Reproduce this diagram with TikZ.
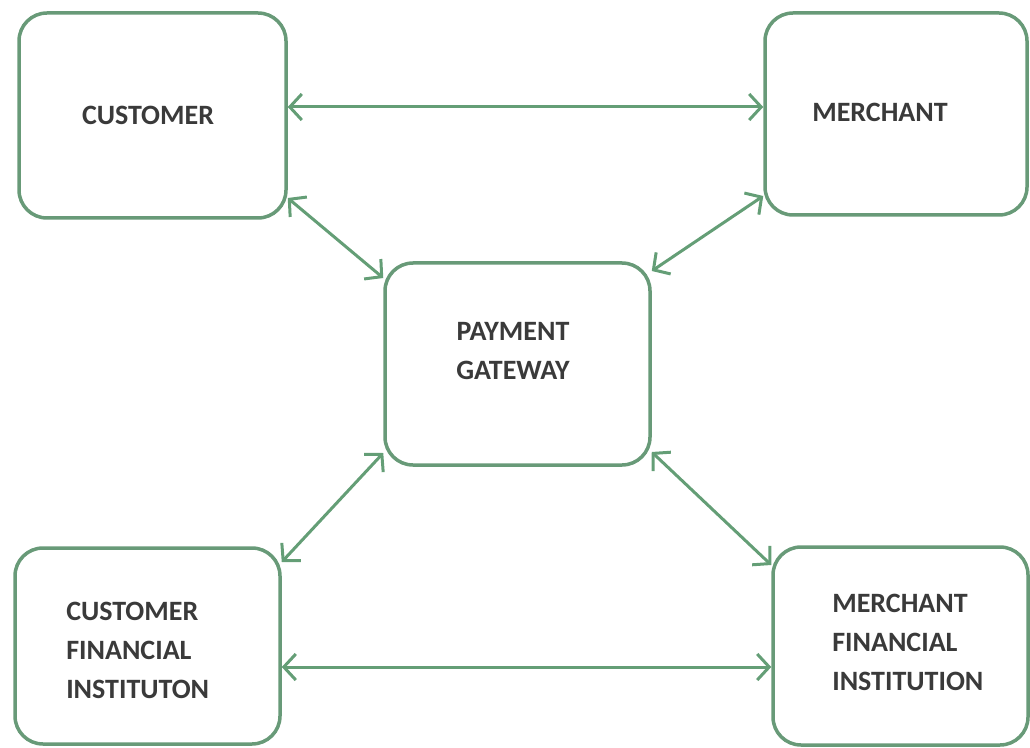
\documentclass[tikz,border=0pt]{standalone}
\usepackage{fontspec}
\setmainfont{Carlito}
\usetikzlibrary{arrows.meta}
\newlength{\pxu}
\setlength{\pxu}{0.75pt}
\definecolor{boxgreen}{RGB}{104,154,120}
\definecolor{linkgreen}{RGB}{100,158,118}
\definecolor{labelgrey}{RGB}{58,58,58}
\tikzset{
  entity/.style={draw=boxgreen, line width=3.5\pxu, rectangle,
    rounded corners=21pt, inner sep=0pt, fill=white},
  label/.style={inner sep=0pt, text=labelgrey,
    font=\fontsize{21pt}{29.25pt}\selectfont\bfseries},
  barb/.tip={Straight Barb[length=9pt,width=19.5pt]},
  link/.style={draw=linkgreen, line width=2.25pt, barb-barb}
}
\begin{document}
\begin{tikzpicture}[x=0.75pt,y=-0.75pt]
  \useasboundingbox (0,0) rectangle (1030,748);

  % boxes
  \node[entity, minimum width=267\pxu, minimum height=205\pxu] (cust)  at (152.5,115.5) {};
  \node[entity, minimum width=262\pxu, minimum height=202\pxu] (merch) at (896,114) {};
  \node[entity, minimum width=265\pxu, minimum height=202\pxu] (gw)    at (517.5,364) {};
  \node[entity, minimum width=265\pxu, minimum height=196\pxu] (cfi)   at (147.5,646) {};
  \node[entity, minimum width=255\pxu, minimum height=198\pxu] (mfi)   at (900.5,646) {};

  % labels
  \node[label] (custtxt)  at (148,115) {CUSTOMER};
  \node[label] (merchtxt) at (880,112) {MERCHANT};
  \node[label, align=center] (gwtxt) at (513,351) {PAYMENT\\GATEWAY};
  \node[label, align=left, anchor=west] (cfitxt) at (66,650) {CUSTOMER\\FINANCIAL\\INSTITUTON};
  \node[label, align=left, anchor=west] (mfitxt) at (832,642) {MERCHANT\\FINANCIAL\\INSTITUTION};

  % two-way connectors
  \draw[link] (cust.east |- 0,107) -- (merch.west |- 0,107);
  \draw[link] (cust.east |- 0,198) -- (gw.west |- 0,278);
  \draw[link] (merch.west |- 0,196) -- (gw.east |- 0,271);
  \draw[link] (gw.west |- 0,453) -- (cfi.east |- 0,562);
  \draw[link] (gw.east |- 0,452) -- (mfi.west |- 0,565);
  \draw[link] (cfi.east |- 0,667) -- (mfi.west |- 0,667);
\end{tikzpicture}
\end{document}
